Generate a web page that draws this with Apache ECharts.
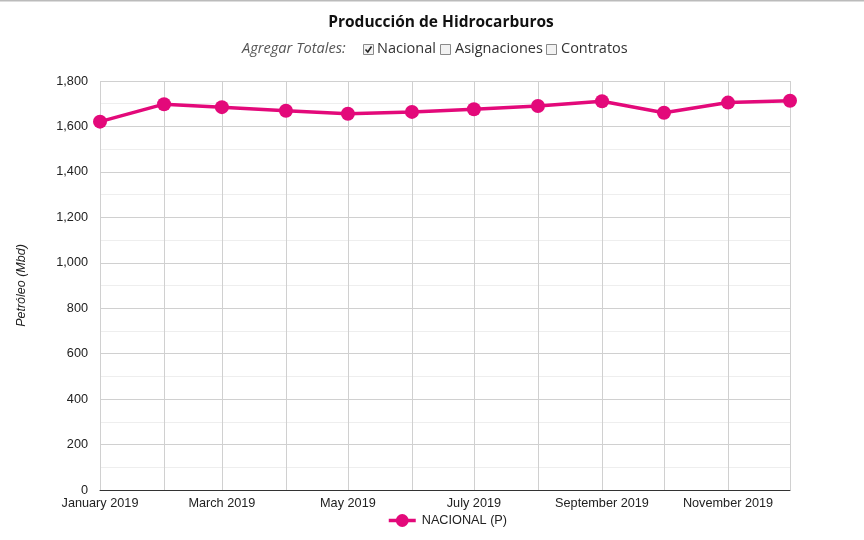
<!DOCTYPE html>
<html>
<head>
<meta charset="utf-8">
<script src="https://cdn.jsdelivr.net/npm/echarts@6/dist/echarts.min.js"></script>
<style>
html,body{margin:0;padding:0;background:#fff;}
#c{width:864px;height:540px;}
</style>
</head>
<body>
<div id="c"></div>
<script>
var months = ['2019-01-01','2019-02-01','2019-03-01','2019-04-01','2019-05-01','2019-06-01','2019-07-01','2019-08-01','2019-09-01','2019-10-01','2019-11-01','2019-12-01'];
var nacional = [1621, 1698, 1685, 1669, 1656, 1664, 1676, 1690, 1711, 1660, 1705, 1713];
var monthNames = ['January','February','March','April','May','June','July','August','September','October','November','December'];
var seriesName = 'NACIONAL (P)';
var titleText = 'Producción de Hidrocarburos';
var yName = 'Petróleo (Mbd)';

var chart = echarts.init(document.getElementById('c'), null, {renderer:'canvas'});
var DAY = 86400000;
var axFont = 'Liberation Sans, Arial, sans-serif';
var option = {
  animation: false,
  backgroundColor: '#fff',
  grid: {left: 100, right: 74, top: 81, bottom: 50, containLabel: false},
  xAxis: {
    type: 'time',
    min: months[0],
    max: months[months.length-1],
    minInterval: 28*DAY,
    maxInterval: 31*DAY,
    axisLine: {show: true, lineStyle: {color: '#333', width: 1}},
    axisTick: {show: false},
    splitLine: {show: true, lineStyle: {color: '#d0d0d0', width: 1}},
    axisLabel: {
      show: true,
      color: '#222',
      fontFamily: axFont,
      fontSize: 12.7,
      margin: 7,
      showMinLabel: true,
      showMaxLabel: true,
      hideOverlap: false,
      formatter: function (v) {
        var d = new Date(v);
        if (d.getDate() !== 1) return '';
        var m = d.getMonth();
        if (m % 2 !== 0) return '';
        return monthNames[m] + ' ' + d.getFullYear();
      }
    }
  },
  yAxis: {
    type: 'value',
    min: 0,
    max: 1800,
    interval: 200,
    name: yName,
    nameLocation: 'middle',
    nameRotate: 90,
    nameGap: 72,
    nameTextStyle: {fontStyle: 'italic', color: '#222', fontSize: 12.5, fontFamily: axFont},
    axisLine: {show: false},
    axisTick: {show: false},
    axisLabel: {color: '#222', fontSize: 12.7, fontFamily: axFont, margin: 12},
    splitLine: {show: true, lineStyle: {color: '#d0d0d0', width: 1}},
    minorTick: {show: false, splitNumber: 2},
    minorSplitLine: {show: true, lineStyle: {color: '#eeeeee', width: 1}}
  },
  legend: {
    show: true,
    top: 514,
    left: 387,
    itemWidth: 27,
    itemHeight: 16,
    itemGap: 10,
    padding: 0,
    textStyle: {color: '#222', fontSize: 12.7, fontFamily: axFont, padding: [0, 0, 0, 1]},
    lineStyle: {width: 3.5},
    data: [seriesName]
  },
  series: [{
    name: seriesName,
    type: 'line',
    data: months.map(function (m, i) { return [m, nacional[i]]; }),
    symbol: 'circle',
    symbolSize: 14,
    showSymbol: true,
    lineStyle: {color: '#E3097A', width: 3.5},
    itemStyle: {color: '#E3097A'}
  }],
  graphic: [
    {type: 'line', shape: {x1: 0, y1: 0.5, x2: 864, y2: 0.5}, style: {stroke: '#bbb', lineWidth: 2}},
    {type: 'text', x: 441, y: 23, style: {text: titleText, textAlign: 'center', textVerticalAlign: 'middle', font: 'bold 15.5px "Open Sans", sans-serif', fill: '#111'}},
    {type: 'text', x: 242, y: 49, style: {text: 'Agregar Totales:', textVerticalAlign: 'middle', font: 'italic 14.6px "Open Sans", sans-serif', fill: '#555'}},
    {type: 'rect', shape: {x: 363.5, y: 44.5, width: 10, height: 10}, style: {fill: '#f2f2f2', stroke: '#8a8a8a', lineWidth: 1}},
    {type: 'polyline', shape: {points: [[365.5, 49.5], [367.8, 52], [371.5, 46.5]]}, style: {stroke: '#222', lineWidth: 1.6, fill: null}},
    {type: 'text', x: 377, y: 49, style: {text: 'Nacional', textVerticalAlign: 'middle', font: '14.5px "Open Sans", sans-serif', fill: '#333'}},
    {type: 'rect', shape: {x: 440.5, y: 44.5, width: 10, height: 10}, style: {fill: '#f2f2f2', stroke: '#8a8a8a', lineWidth: 1}},
    {type: 'text', x: 455, y: 49, style: {text: 'Asignaciones', textVerticalAlign: 'middle', font: '14.5px "Open Sans", sans-serif', fill: '#333'}},
    {type: 'rect', shape: {x: 546.5, y: 44.5, width: 10, height: 10}, style: {fill: '#f2f2f2', stroke: '#8a8a8a', lineWidth: 1}},
    {type: 'text', x: 561, y: 49, style: {text: 'Contratos', textVerticalAlign: 'middle', font: '14.5px "Open Sans", sans-serif', fill: '#333'}}
  ]
};
chart.setOption(option);
</script>
</body>
</html>
